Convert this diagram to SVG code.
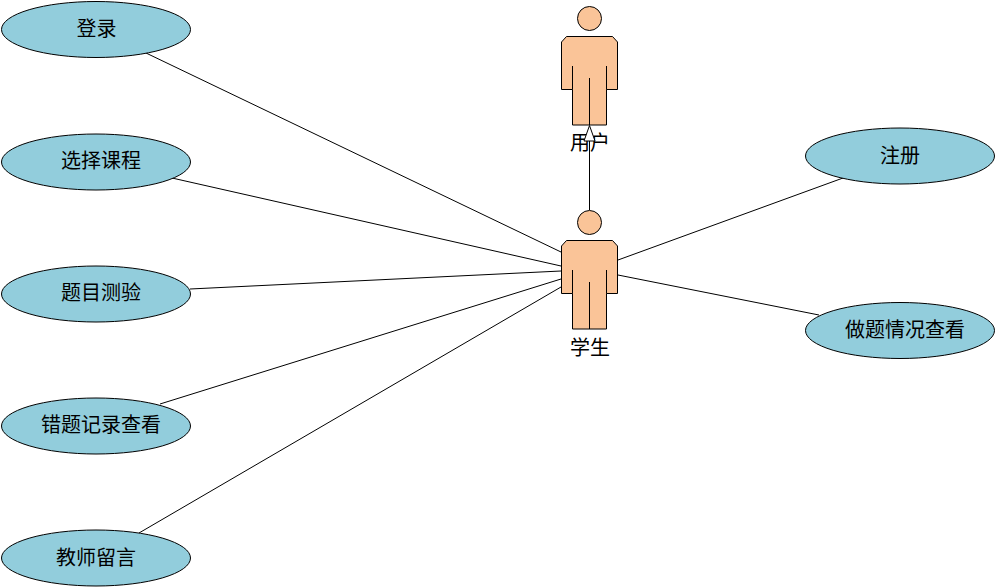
<svg xmlns="http://www.w3.org/2000/svg" width="996" height="587" viewBox="0 0 996 587">
<style>
.uc{fill:#92cddc;stroke:#000;stroke-width:1}
.a{fill:#fac498;stroke:#000;stroke-width:1}
.l{fill:none;stroke:#000;stroke-width:1}
text{font-family:"Liberation Serif","Noto Sans CJK SC",serif;font-size:20px;fill:#000;text-anchor:middle}
</style>
<defs>
<g id="actor">
<circle class="a" cx="589.5" cy="18.5" r="12"/>
<path class="a" d="M566.5 36.5H612.5L617.5 42V89.5H606.5V125H572.5V89.5H561.5V42Z"/>
<path class="l" d="M572.5 66V89.5M606.5 66V89.5M589.5 78V125"/>
</g>
</defs>
<g id="connectors">
<path class="l" d="M146 53L561 252M172 178L561 266M190 289L561 271M160 404L561 279M139 533L561 287M618 260L843 178M618 275L819 315"/>
</g>
<g id="n-login"><ellipse class="uc" cx="96" cy="29.5" rx="94.5" ry="28"/><text x="96.500" y="36">登录</text></g>
<g id="n-course"><ellipse class="uc" cx="96" cy="162" rx="94.500" ry="28"/><text x="101" y="168">选择课程</text></g>
<g id="n-test"><ellipse class="uc" cx="96" cy="294" rx="94.500" ry="28"/><text x="101" y="300">题目测验</text></g>
<g id="n-wrong"><ellipse class="uc" cx="96" cy="426" rx="94.500" ry="28"/><text x="101" y="432">错题记录查看</text></g>
<g id="n-msg"><ellipse class="uc" cx="96" cy="558" rx="94.500" ry="28"/><text x="96" y="565">教师留言</text></g>
<g id="n-reg"><ellipse class="uc" cx="900" cy="156" rx="94.500" ry="28"/><text x="900" y="163">注册</text></g>
<g id="n-status"><ellipse class="uc" cx="900" cy="330.500" rx="94.500" ry="28"/><text x="905" y="337">做题情况查看</text></g>
<g id="n-user"><use href="#actor"/><text x="590" y="150">用户</text></g>
<g id="n-student"><use href="#actor" y="204"/><text x="590" y="355">学生</text></g>
<g id="generalization">
<path class="l" d="M589.500 141V210"/>
<path d="M589.500 125.500L584 141H595Z" fill="#fff" stroke="#000"/>
</g>
</svg>
